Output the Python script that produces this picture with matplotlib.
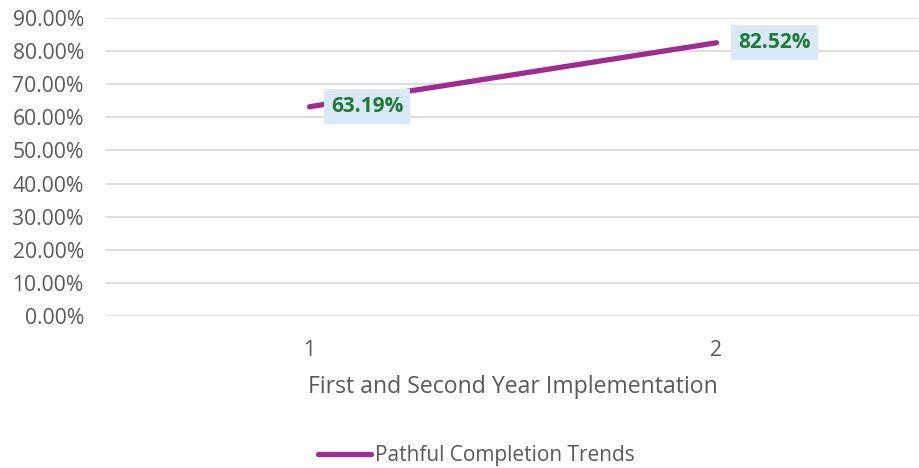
import matplotlib
matplotlib.use("Agg")
import matplotlib.pyplot as plt
from matplotlib.ticker import PercentFormatter

categories = ["1", "2"]
values = [0.6319, 0.8252]
series_name = "Pathful Completion Trends"
x_title = "First and Second Year Implementation"
yticks = [0.0, 0.1, 0.2, 0.3, 0.4, 0.5, 0.6, 0.7, 0.8, 0.9]

plt.rcParams['font.family'] = ['Open Sans', 'DejaVu Sans']

fig = plt.figure(figsize=(9.2, 4.68), dpi=100)
ax = fig.add_axes([106/920, 1-316/468, 1-106/920, (316-18)/468])

xs = list(range(len(categories)))
line_color = "#A02B93"
ax.plot(xs, values, color=line_color, linewidth=3.8, solid_capstyle='round', label=series_name, zorder=3)

ax.set_xlim(-0.5, len(categories)-0.5)
ax.set_ylim(0, 0.9)
ax.set_yticks(yticks)
ax.yaxis.set_major_formatter(PercentFormatter(1.0, decimals=2))
ax.set_xticks(xs)
ax.set_xticklabels(categories)
ax.grid(axis='y', color='#D9D9D9', linewidth=1.2)
ax.set_axisbelow(True)
for s in ax.spines.values():
    s.set_visible(False)
ax.tick_params(axis='both', length=0, labelsize=15.2, labelcolor='#595959')
ax.tick_params(axis='x', pad=17.5)
ax.tick_params(axis='y', pad=16)
ax.set_xlabel(x_title, fontsize=16.6, color='#595959', labelpad=10)

for x, v in zip(xs, values):
    ax.annotate(f"{v*100:.2f}%", (x, v), xytext=(15.5, 0), textcoords='offset points',
                ha='left', va='center', fontsize=15, fontweight='bold', color='#1E7B34',
                bbox=dict(boxstyle='square,pad=0.34', facecolor='#DAE9F8', edgecolor='none'),
                zorder=4)

leg = fig.legend(loc='center', bbox_to_anchor=(476.5/920, 1-456/468), frameon=False,
                 fontsize=15, handlelength=2.5, handletextpad=0.2, labelcolor='#595959')

fig.savefig("out.png", dpi=100)
